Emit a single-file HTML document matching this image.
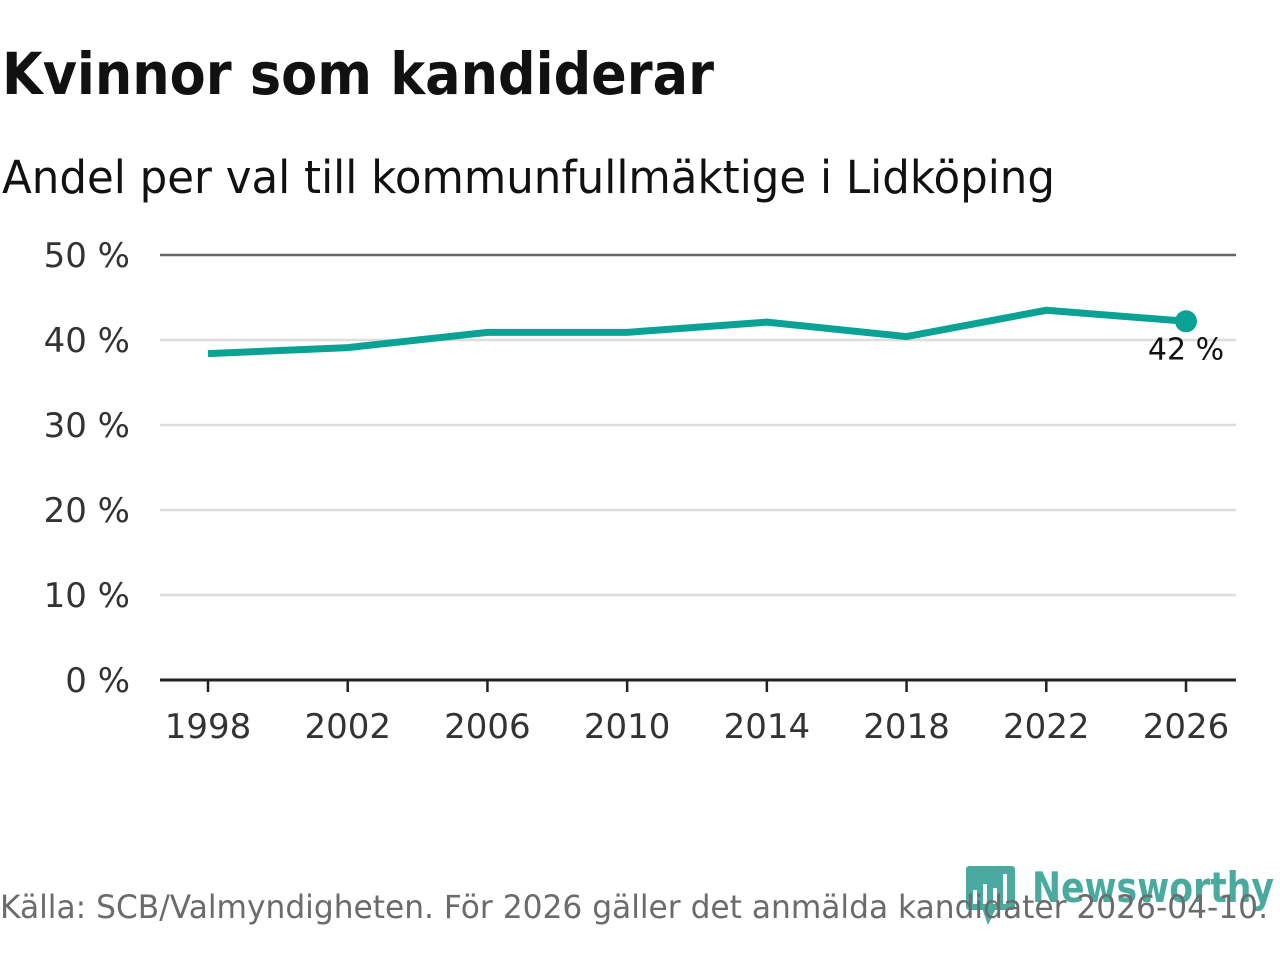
<!DOCTYPE html>
<html><head><meta charset="utf-8"><style>
body{margin:0;width:1280px;height:960px;background:#fff;overflow:hidden;font-family:"DejaVu Sans","Liberation Sans",sans-serif;}
</style></head><body>
<svg width="1280" height="960" id="svg">
<text x="2" y="94" font-size="58" font-weight="bold" fill="#111" textLength="712" lengthAdjust="spacingAndGlyphs">Kvinnor som kandiderar</text>
<text x="2" y="193" font-size="45" fill="#111" textLength="1053" lengthAdjust="spacingAndGlyphs">Andel per val till kommunfullmäktige i Lidköping</text>
<g id="grid"></g>
<g id="plot"></g>
<g opacity="0.85">
<rect x="966" y="866" width="49" height="44" rx="3" fill="#2a9d8f"/>
<polygon points="982,908 996,908 988,925" fill="#2a9d8f"/>
<rect x="973" y="890" width="4" height="14" fill="#fff"/><rect x="983" y="884" width="4" height="20" fill="#fff"/><rect x="993" y="888" width="4" height="16" fill="#fff"/><rect x="1003" y="874" width="4" height="30" fill="#fff"/>
<text x="1032" y="902" font-size="42" font-weight="bold" fill="#2a9d8f" textLength="242" lengthAdjust="spacingAndGlyphs">Newsworthy</text>
</g>
<text x="0" y="918" font-size="32" fill="#6b6b6b" textLength="1268" lengthAdjust="spacingAndGlyphs">Källa: SCB/Valmyndigheten. För 2026 gäller det anmälda kandidater 2026-04-10.</text>
</svg>
<script>
const years=[1998,2002,2006,2010,2014,2018,2022,2026];
const shares=[38.4,39.1,40.9,40.9,42.1,40.4,43.5,42.2];
const yTicks=[0,10,20,30,40,50];
const endLabel="42 %";
const NS="http://www.w3.org/2000/svg";
const X=v=>208+(v-1998)*(1186-208)/28;
const Y=v=>680-v*8.5;
const grid=document.getElementById('grid'),plot=document.getElementById('plot');
function mk(tag,at,parent){const e=document.createElementNS(NS,tag);for(const k in at)e.setAttribute(k,at[k]);parent.appendChild(e);return e;}
yTicks.forEach(t=>{
 const l=mk('line',{x1:160,x2:1236,y1:Y(t),y2:Y(t),stroke:t==50?'#666':(t==0?'#222':'#ddd'),'stroke-width':t==0?3:2.5},grid);
 
 
 const tx=mk('text',{x:130,y:Y(t)+12,'text-anchor':'end','font-size':34,fill:'#333'},grid);
 tx.textContent=t+' %';
 
 
});
years.forEach(y=>{
 const l=mk('line',{x1:X(y),x2:X(y),y1:680,y2:692,stroke:'#222','stroke-width':2.5},grid);
 
 
 const tx=mk('text',{x:X(y),y:738,'text-anchor':'middle','font-size':34,fill:'#333'},grid);
 tx.textContent=y;
 
 
});
const p=mk('polyline',{points:years.map((y,i)=>X(y)+','+Y(shares[i])).join(' '),fill:'none',stroke:'#0aa294','stroke-width':7,'stroke-linejoin':'round'},plot);


const n=years.length-1;
const c=mk('circle',{cx:X(years[n]),cy:Y(shares[n]),r:11,fill:'#0aa294'},plot);


const lb=mk('text',{x:X(years[n]),y:Y(shares[n])+38,'text-anchor':'middle','font-size':30,fill:'#111'},plot);
lb.textContent=endLabel;


</script>
</body></html>
